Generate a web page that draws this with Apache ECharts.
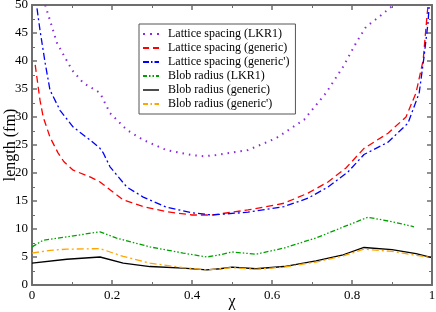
<!DOCTYPE html>
<html><head><meta charset="utf-8">
<script src="https://cdn.jsdelivr.net/npm/echarts@6/dist/echarts.min.js"></script>
<style>html,body{margin:0;padding:0;background:#fff}#c{width:436px;height:312px}</style>
</head><body><div id="c"></div>
<script>
var latticeLKR1 = [[0.033,50],[0.0625,43.2],[0.1,38.4],[0.128,36.1],[0.17,34.3],[0.195,30.7],[0.237,27.7],[0.278,25.9],[0.336,24.1],[0.40,23.2],[0.43,23.0],[0.46,23.2],[0.54,24.1],[0.61,26.2],[0.68,29.5],[0.735,34.3],[0.778,39.0],[0.81,43.2],[0.835,46.1],[0.868,47.9],[0.897,49.6],[0.9,50]];
var latticeGeneric = [[0.008,39.3],[0.02,33],[0.028,30],[0.045,26.4],[0.065,23.6],[0.08,22],[0.103,20.5],[0.145,19.3],[0.17,18.4],[0.195,17],[0.228,15.2],[0.278,14],[0.336,13.1],[0.40,12.5],[0.45,12.5],[0.54,13.4],[0.63,14.6],[0.69,16.4],[0.74,18.4],[0.785,20.9],[0.83,24.4],[0.89,27.1],[0.935,30],[0.96,34.3],[0.978,40.2],[0.985,46],[0.99,50]];
var latticeGenericP = [[0.0125,49.4],[0.02,45.5],[0.033,39.6],[0.045,34.8],[0.07,31.2],[0.103,28.2],[0.145,25.9],[0.17,24.4],[0.178,23.6],[0.195,21.1],[0.237,17.5],[0.278,15.7],[0.336,13.9],[0.40,12.9],[0.45,12.5],[0.54,13],[0.63,14],[0.69,15.5],[0.74,17.5],[0.79,20.2],[0.83,23.3],[0.89,25.5],[0.94,28.9],[0.968,34.3],[0.98,40.7],[0.99,46.8],[0.993,50]];
var blobLKR1 = [[0,6.8],[0.028,8],[0.087,8.6],[0.17,9.5],[0.21,8.4],[0.295,6.8],[0.378,5.7],[0.437,5.0],[0.47,5.4],[0.50,5.9],[0.56,5.5],[0.63,6.6],[0.71,8.4],[0.79,10.7],[0.84,12.1],[0.90,11.3],[0.955,10.4]];
var blobGeneric = [[0,3.9],[0.087,4.6],[0.17,5.0],[0.228,3.9],[0.295,3.3],[0.378,3.0],[0.437,2.7],[0.47,2.9],[0.50,3.2],[0.56,2.9],[0.63,3.3],[0.71,4.3],[0.778,5.4],[0.83,6.7],[0.90,6.3],[0.96,5.6],[1.0,4.9]];
var blobGenericP = [[0,5.7],[0.045,6.2],[0.087,6.4],[0.17,6.5],[0.228,5.1],[0.295,3.9],[0.378,3.1],[0.437,2.7],[0.47,2.9],[0.50,3.1],[0.56,2.8],[0.63,3.2],[0.71,4.1],[0.778,5.2],[0.83,6.4],[0.90,6.0],[0.96,5.3],[1.0,4.9]];
var seriesNames = ['Lattice spacing (LKR1)','Lattice spacing (generic)',"Lattice spacing (generic')",'Blob radius (LKR1)','Blob radius (generic)',"Blob radius (generic')"];
var xTicks = [0,0.2,0.4,0.6,0.8,1];
var yTicks = [0,5,10,15,20,25,30,35,40,45,50];

var font = '"Liberation Serif", "Times New Roman", serif';
var frame = '#6e6e6e';
// legend icons drawn as dash patterns, 16 x 2 boxes
var legendIcons = [
  'path://M0,0h2v2h-2z M7,0h2v2h-2z M14,0h2v2h-2z',
  'path://M0,0h6v2h-6z M10,0h6v2h-6z',
  'path://M0,0h6v2h-6z M8,0h1.5v2h-1.5z M11.5,0h4.5v2h-4.5z',
  'path://M0,0h4v2h-4z M6,0h1.5v2h-1.5z M9.5,0h1.5v2h-1.5z M13,0h3v2h-3z',
  'path://M0,0.3h16v1.4h-16z',
  'path://M0,0h5v2h-5z M7.5,0h1.5v2h-1.5z M11.5,0h4.5v2h-4.5z'
];
function mkSeries(name, data, color, type, width){
  return {name:name, type:'line', data:data, symbol:'none', smooth:false, xAxisIndex:0, yAxisIndex:0,
    lineStyle:{color:color, width:width||1.3, type:type}, itemStyle:{color:color}, z:3};
}
var chart = echarts.init(document.getElementById('c'), null, {renderer:'canvas'});
var axisCommon = {
  nameMoveOverlap:false,
  axisLine:{show:true, onZero:false, lineStyle:{color:frame, width:2}},
  axisTick:{show:true, inside:true, length:5, lineStyle:{color:frame, width:1.5}},
  minorTick:{show:true, splitNumber:2, length:3, lineStyle:{color:frame, width:1}},
  splitLine:{show:false}
};
var labelRich = {t:{fontFamily:font, fontSize:13, color:'#000'}};
chart.setOption({
  animation:false,
  textStyle:{fontFamily:font},
  grid:{left:32, right:4, top:5, bottom:27, containLabel:false, outerBoundsMode:'none'},
  xAxis:[
    Object.assign({type:'value', min:0, max:1, interval:0.2, position:'bottom',
      name:'\u03c7', nameLocation:'middle', nameGap:9, nameTextStyle:{fontFamily:font, fontSize:16, color:'#000'},
      axisLabel:{fontFamily:font, fontSize:13, color:'#000', margin:4, rich:labelRich,
        formatter:function(v){var s=+(+v).toFixed(1); return xTicks.indexOf(s)>=0 ? '{t|'+s+'}' : '';}}}, axisCommon),
    Object.assign({type:'value', min:0, max:1, interval:0.2, position:'top', axisLabel:{show:false}}, axisCommon)
  ],
  yAxis:[
    Object.assign({type:'value', min:0, max:50, interval:5, position:'left',
      name:'length (fm)', nameLocation:'middle', nameGap:13, nameTextStyle:{fontFamily:font, fontSize:16, color:'#000'},
      axisLabel:{fontFamily:font, fontSize:13, color:'#000', margin:4, rich:labelRich,
        formatter:function(v){return yTicks.indexOf(+v)>=0 ? '{t|'+v+'}' : '';}}}, axisCommon),
    Object.assign({type:'value', min:0, max:50, interval:5, position:'right', axisLabel:{show:false}}, axisCommon)
  ],
  legend:{
    orient:'vertical', left:139, top:24,
    padding:[3,6,3,4], itemGap:0, itemWidth:16, itemHeight:2,
    backgroundColor:'#fff', borderColor:'#555', borderWidth:1,
    textStyle:{fontFamily:font, fontSize:12, color:'#000', lineHeight:14, padding:[0,0,0,4]},
    data:seriesNames.map(function(n,i){return {name:n, icon:legendIcons[i]};})
  },
  series:[
    mkSeries(seriesNames[0], latticeLKR1, '#8a2be2', [1.5,5], 2),
    mkSeries(seriesNames[1], latticeGeneric, '#ff0000', [7,4]),
    mkSeries(seriesNames[2], latticeGenericP, '#0000ff', [7,3,2,3]),
    mkSeries(seriesNames[3], blobLKR1, '#00a000', [5,2,1.5,2,1.5,2]),
    mkSeries(seriesNames[4], blobGeneric, '#000000', 'solid'),
    mkSeries(seriesNames[5], blobGenericP, '#ffa500', [7,3,2,3])
  ]
});
</script></body></html>
